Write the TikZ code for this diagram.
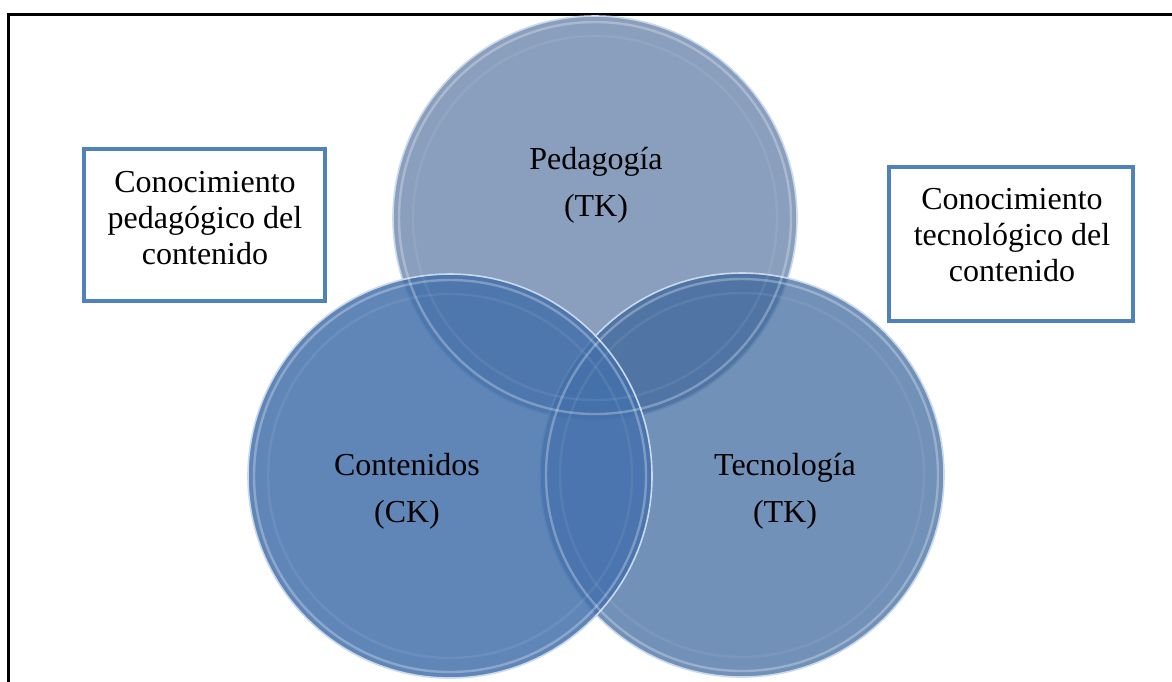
\documentclass[tikz,border=0pt]{standalone}
\usepackage{fontspec}
\setmainfont{Liberation Serif}
\definecolor{boxblue}{RGB}{79,129,189}
\definecolor{pedblue}{RGB}{138,159,190}
\definecolor{conblue}{RGB}{68,113,172}
\definecolor{tecblue}{RGB}{59,102,156}
\begin{document}
\begin{tikzpicture}[x=0.5pt, y=-0.5pt,
	venn/.style={circle, minimum size=202pt, inner sep=0pt, outer sep=0pt, draw=white!70!boxblue, line width=0.8pt},
	rim/.style={white, line width=1.2pt, opacity=0.28},
	vlabel/.style={align=center, font=\fontsize{16}{23.5}\selectfont},
	kbox/.style={draw=boxblue, line width=2.3pt, fill=white, inner sep=0pt},
	klabel/.style={align=center, font=\fontsize{16}{17.8}\selectfont}]
	\useasboundingbox (0,0) rectangle (1172,681);
	\clip (0,0) rectangle (1172,681);
	\draw[line width=1.5pt] (8.7,14.7) rectangle (1190,700);
	\node[kbox, minimum width=120.5pt, minimum height=76pt] (pckbox) at (204.5,225) {};
	\node[klabel] (pcktext) at (205,218) {Conocimiento\\pedagógico del\\contenido};
	\node[kbox, minimum width=122pt, minimum height=77pt] (tckbox) at (1011,244) {};
	\node[klabel] (tcktext) at (1012,235) {Conocimiento\\tecnológico del\\contenido};
	\node[venn, fill=pedblue] (ped) at (595,218) {};
	\node[venn, fill=tecblue, fill opacity=0.72] (tec) at (742,475) {};
	\node[venn, fill=conblue, fill opacity=0.85] (con) at (450,476) {};
	\foreach \c in {ped,tec,con}{
		\draw[rim] (\c.center) circle (98pt);
		\draw[rim, opacity=0.07] (\c.center) circle (91pt);
	}
	\node[vlabel] (pedtext) at (596,185) {Pedagogía\\(TK)};
	\node[vlabel] (context) at (407,491) {Contenidos\\(CK)};
	\node[vlabel] (tectext) at (785,491) {Tecnología\\(TK)};
\end{tikzpicture}
\end{document}
